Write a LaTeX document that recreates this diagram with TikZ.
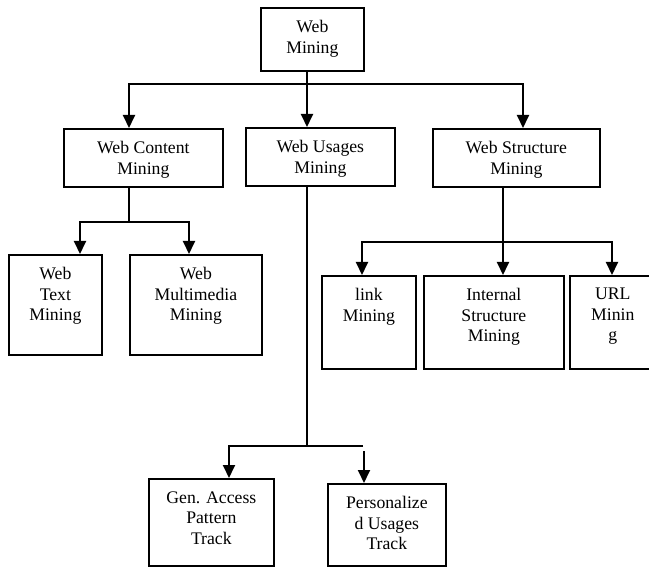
\documentclass[tikz,border=0pt]{standalone}
\usepackage{fontspec}
\setmainfont{Liberation Serif}
\usepackage{tikz}
\usetikzlibrary{arrows.meta,calc,positioning}

%Box text: width, height, lines (top aligned)
\newcommand{\boxtext}[3]{\parbox[c][#2pt][t]{#1pt}{\centering\vspace*{12.5pt}#3}}

\tikzset{
  box/.style={draw,line width=1.7pt,inner sep=0pt,anchor=north west},
  conn/.style={line width=1.9pt},
  thin/.style={line width=1.3pt},
  >={Triangle[length=13pt,width=12pt]}
}

\begin{document}
\begin{tikzpicture}[x=1pt,y=-1pt,font=\fontsize{17.7}{20.5}\selectfont]

\useasboundingbox (0,0) rectangle (649,567);

%Drawing boxes
\node[box] (wm)  at (260,7)   {\boxtext{103}{63}{Web\\Mining}};
\node[box] (wc)  at (63,128)  {\boxtext{159}{58}{Web Content\\Mining}};
\node[box] (wu)  at (245,127) {\boxtext{149}{58}{Web Usages\\Mining}};
\node[box] (ws)  at (432,128) {\boxtext{167}{58}{Web Structure\\Mining}};
\node[box] (wt)  at (8,254)   {\boxtext{93}{100}{Web\\Text\\Mining}};
\node[box] (wmm) at (129,254) {\boxtext{132}{100}{Web\\Multimedia\\Mining}};
\node[box] (lm)  at (321,275) {\boxtext{94}{93}{link\\Mining}};
\node[box] (ism) at (423,275) {\boxtext{140}{93}{Internal\\Structure\\Mining}};
\node[box] (um)  at (569,275) {\boxtext{86}{93}{URL\\Minin\\g}};
\node[box] (gap) at (148,478) {\boxtext{125}{87}{Gen. Access\\Pattern\\Track}};
\node[box] (put) at (327,483) {\boxtext{118}{82}{Personalize\\d Usages\\Track}};

%Marking coordinates
\coordinate (c1)  at (307,84);
\coordinate (b1l) at (129,84);
\coordinate (b1r) at (523,84);
\coordinate (b2)  at (129,222);
\coordinate (b2l) at (80,222);
\coordinate (b2r) at (189,222);
\coordinate (b3)  at (503,242);
\coordinate (b3l) at (362,242);
\coordinate (b3r) at (612,242);
\coordinate (b4)  at (307,446);
\coordinate (b4l) at (229,446);
\coordinate (b4r) at (363,446);
\coordinate (b4d) at (364,451);

%Drawing connectors
\draw[conn,->] (wm.south -| c1) -- (wu.north -| c1);
\draw[conn,<->] (wc.north -| b1l) |- (b1r) -- (ws.north -| b1r);
\draw[thin] (wc.south -| b2) -- (b2);
\draw[conn,<->] (wt.north -| b2l) |- (b2r) -- (wmm.north -| b2r);
\draw[conn,->] (ws.south -| b3) -- (ism.north -| b3);
\draw[conn,<->] (lm.north -| b3l) |- (b3r) -- (um.north -| b3r);
\draw[thin] (wu.south -| c1) -- (b4);
\draw[conn,->] (b4r) -| (gap.north -| b4l);
\draw[conn,->] (b4d) -- (put.north -| b4d);
\end{tikzpicture}
\end{document}
